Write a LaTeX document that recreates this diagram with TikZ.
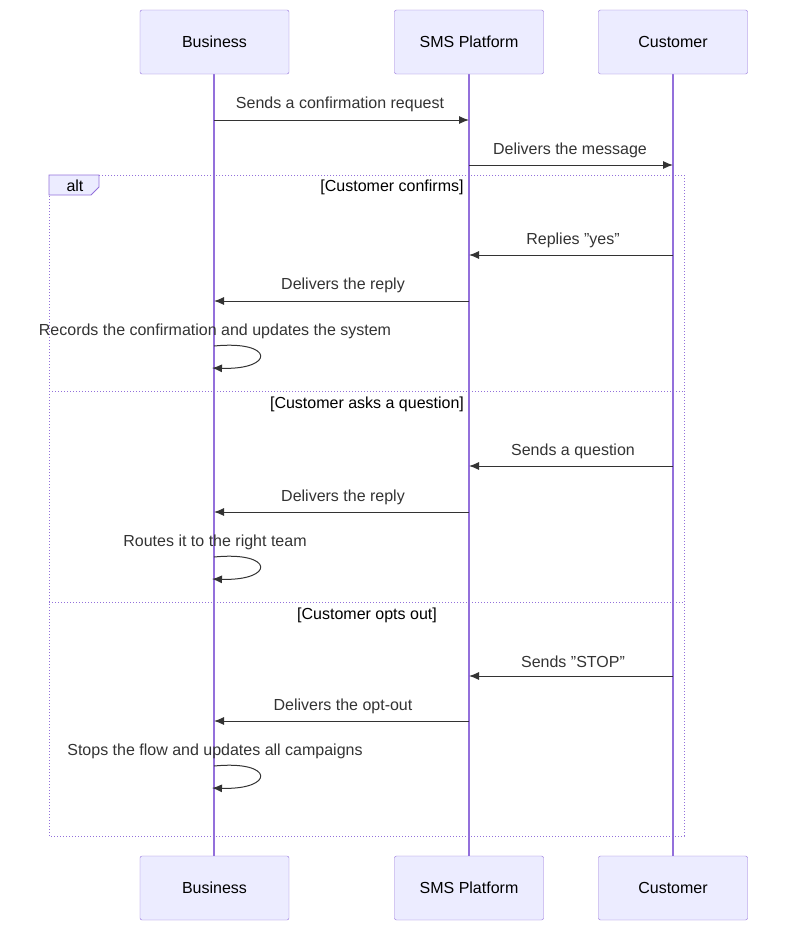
\documentclass[tikz,border=0pt]{standalone}
\usepackage{fontspec}
\setmainfont{Liberation Sans}
\usetikzlibrary{arrows.meta}
\definecolor{boxfill}{HTML}{ECECFF}
\definecolor{boxline}{HTML}{9370DB}
\definecolor{txt}{HTML}{333333}
\begin{document}
\begin{tikzpicture}[x=1pt,y=-1pt,
  actor/.style={draw=boxline,fill=boxfill,rounded corners=2pt,minimum width=149pt,minimum height=64pt,inner sep=0pt,font=\fontsize{16}{19}\selectfont,text=black},
  life/.style={draw=boxline,line width=1.3pt},
  msg/.style={draw=txt,line width=1pt,-{Latex[length=10pt,width=8pt]}},
  lbl/.style={font=\fontsize{16}{19}\selectfont,text=txt,inner sep=0pt},
  cond/.style={font=\fontsize{16}{19}\selectfont,text=black,inner sep=0pt},
  frame/.style={draw=boxline,line width=1pt,dotted}]
\useasboundingbox (0,0) rectangle (805,940);
\draw[life] (214,74) -- (214,856);
\draw[life] (469,74) -- (469,856);
\draw[life] (673,74) -- (673,856);
\node[actor] (b1) at (214.5,42) {Business};
\node[actor] (s1) at (469,42) {SMS Platform};
\node[actor] (c1) at (673,42) {Customer};
\node[actor] (b2) at (214.5,888) {Business};
\node[actor] (s2) at (469,888) {SMS Platform};
\node[actor] (c2) at (673,888) {Customer};
% alt frame
\draw[frame] (49,175) rectangle (684,836);
\draw[frame] (49,391) -- (684,391);
\draw[frame] (49,602) -- (684,602);
\draw[draw=boxline,fill=boxfill,line width=0.8pt] (49,175) -- (99,175) -- (99,187) -- (91,195) -- (49,195) -- cycle;
\node[cond] (alt) at (75,186) {alt};
\node[cond] (k1) at (392,187) {[Customer confirms]};
\node[cond] (k2) at (367,404) {[Customer asks a question]};
\node[cond] (k3) at (367,615) {[Customer opts out]};
% coordinates
\foreach \n/\y in {1/120,2/165,3/255,4/301,5/466,6/512,7/676,8/721}{
  \coordinate (B\n) at (214,\y); \coordinate (S\n) at (469,\y); \coordinate (C\n) at (673,\y);}
\draw[msg] (B1) -- (S1); \node[lbl] (m1) at (340,104) {Sends a confirmation request};
\draw[msg] (S2) -- (C2); \node[lbl] (m2) at (570,150) {Delivers the message};
\draw[msg] (C3) -- (S3); \node[lbl] (m3) at (573,240) {Replies "yes"};
\draw[msg] (S4) -- (B4); \node[lbl] (m4) at (343,285) {Delivers the reply};
\draw[msg] (C5) -- (S5); \node[lbl] (m5) at (573,451) {Sends a question};
\draw[msg] (S6) -- (B6); \node[lbl] (m6) at (343,497) {Delivers the reply};
\draw[msg] (C7) -- (S7); \node[lbl] (m7) at (573,662) {Sends "STOP"};
\draw[msg] (S8) -- (B8); \node[lbl] (m8) at (343,706) {Delivers the opt-out};
% self loops
\foreach \n/\y/\t in {1/346/{Records the confirmation and updates the system},2/557/{Routes it to the right team},3/766/{Stops the flow and updates all campaigns}}{
  \coordinate (L\n a) at (214,\y);
  \coordinate (L\n b) at (212,\y+22);
  \draw[msg] (L\n a) .. controls (275,\y-6) and (275,\y+24) .. (L\n b);
  \node[lbl] (s\n) at (215,\y-15) {\t};}
\end{tikzpicture}
\end{document}
